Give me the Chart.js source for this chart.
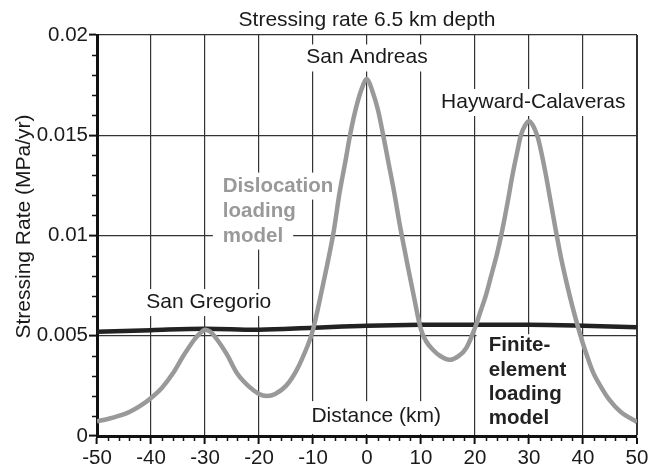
<!DOCTYPE html>
<html>
<head>
<meta charset="utf-8">
<script src="https://cdn.jsdelivr.net/npm/chart.js@4.4.1/dist/chart.umd.min.js"></script>
<style>
  html, body { margin: 0; padding: 0; background: #fff; }
  canvas { display: block; }
</style>
</head>
<body>
<canvas id="stressChart" width="661" height="468"></canvas>
<script>
// Dislocation loading model (gray curve): distance (km) / stressing rate (MPa/yr)
const dislocationX = [-50, -48, -46, -44, -42, -40, -38, -36, -34, -32, -31, -30, -29, -28, -26, -24, -22, -20, -18.5, -17, -15, -13, -11, -10, -8.5, -6.3, -5.1, -4, -3, -2, -1, 0, 1, 2, 3, 4, 5, 6.3, 8.8, 10, 11, 12.2, 13.5, 15.3, 17, 18.4, 20, 21, 22, 23, 24, 25, 26, 27, 28, 28.5, 29.3, 30, 30.7, 31.5, 32, 33, 34, 35, 36, 37, 38, 39, 40, 41, 42, 43, 44.9, 47, 50];
const dislocationY = [0.00073, 0.00085, 0.0010, 0.0012, 0.0015, 0.0019, 0.0024, 0.0031, 0.0040, 0.0048, 0.0051, 0.0053, 0.0052, 0.0049, 0.0041, 0.0031, 0.0025, 0.0021, 0.0020, 0.0021, 0.0025, 0.0033, 0.0045, 0.0053, 0.0071, 0.0100, 0.0121, 0.0137, 0.0152, 0.0164, 0.0173, 0.0178, 0.0172, 0.0163, 0.0150, 0.0136, 0.0122, 0.0102, 0.0068, 0.0053, 0.0047, 0.0043, 0.0040, 0.0038, 0.0040, 0.0044, 0.0054, 0.0062, 0.0070, 0.0080, 0.0090, 0.0102, 0.0116, 0.0131, 0.0144, 0.0150, 0.0155, 0.0157, 0.0155, 0.0150, 0.0145, 0.0132, 0.0117, 0.0102, 0.0088, 0.0076, 0.0065, 0.0055, 0.0046, 0.0038, 0.0031, 0.0026, 0.0018, 0.0012, 0.0007];

// Finite-element loading model (black curve)
const finiteX = [-50, -40, -30, -20, -10, 0, 10, 20, 30, 40, 50];
const finiteY = [0.0052, 0.00528, 0.00535, 0.0053, 0.0054, 0.0055, 0.00555, 0.00555, 0.00555, 0.0055, 0.00543];

// Axis ticks
const xTickValues = [-50, -40, -30, -20, -10, 0, 10, 20, 30, 40, 50];
const xTickLabels = ['-50', '-40', '-30', '-20', '-10', '0', '10', '20', '30', '40', '50'];
const yTickValues = [0, 0.005, 0.01, 0.015, 0.02];
const yTickLabels = ['0', '0.005', '0.01', '0.015', '0.02'];

const faultNames = ['San Gregorio', 'San Andreas', 'Hayward-Calaveras'];
const chartTitle = 'Stressing rate 6.5 km depth';
const xTitle = 'Distance (km)';
const yTitle = 'Stressing Rate (MPa/yr)';
const dislocationLabel = ['Dislocation', 'loading', 'model'];
const finiteLabel = ['Finite-', 'element', 'loading', 'model'];

const FONT = "'Liberation Sans', Arial, Helvetica, sans-serif";
const TEXT_COLOR = '#1a1a1a';
const GRAY = '#999999';

Chart.defaults.font.family = FONT;
Chart.defaults.color = TEXT_COLOR;

function toPoints(xs, ys) {
    return xs.map((x, i) => ({ x: x, y: ys[i] }));
}

// Text labels on white boxes, drawn after the grid and before the curves
const labelsPlugin = {
    id: 'labelsPlugin',
    beforeDatasetsDraw(chart) {
        const { ctx, chartArea, scales: { x, y } } = chart;
        ctx.save();

        function boxedText(text, cx, baseline, align, font, color, padX) {
            ctx.font = font;
            const w = ctx.measureText(text).width;
            const left = align === 'center' ? cx - w / 2 : cx;
            ctx.fillStyle = '#fff';
            ctx.fillRect(left - padX, baseline - 19, w + padX * 2, 27);
            ctx.fillStyle = color;
            ctx.textAlign = 'left';
            ctx.textBaseline = 'alphabetic';
            ctx.fillText(text, left, baseline);
        }

        const plainFont = '21px ' + FONT;
        const boldFont = 'bold 20.5px ' + FONT;

        // fault names
        boxedText(faultNames[0], x.getPixelForValue(-29.3), y.getPixelForValue(0.00638), 'center', plainFont, TEXT_COLOR, 3);
        boxedText(faultNames[1], x.getPixelForValue(0), y.getPixelForValue(0.01858), 'center', plainFont, TEXT_COLOR, 3);
        boxedText(faultNames[2], x.getPixelForValue(30.8), y.getPixelForValue(0.01636), 'center', plainFont, TEXT_COLOR, 3);

        // x-axis title sits inside the plot
        ctx.font = plainFont;
        const xtW = ctx.measureText(xTitle).width;
        const xtCx = x.getPixelForValue(1.7);
        const xtBase = y.getPixelForValue(0.00069);
        ctx.fillStyle = '#fff';
        ctx.fillRect(xtCx - xtW / 2 - 5, xtBase - 21, xtW + 10, chartArea.bottom - 2 - (xtBase - 21));
        ctx.fillStyle = TEXT_COLOR;
        ctx.textAlign = 'center';
        ctx.fillText(xTitle, xtCx, xtBase);

        // dislocation model label (gray, bold)
        const dLeft = x.getPixelForValue(-26.7);
        const dBase = y.getPixelForValue(0.01219);
        dislocationLabel.forEach((line, i) => {
            boxedText(line, dLeft, dBase + i * 25, 'left', boldFont, GRAY, 10);
        });

        // finite-element model label (black, bold) in one box between x=20 and x=40
        const fx0 = x.getPixelForValue(20) + 1.5;
        const fx1 = x.getPixelForValue(40) - 1.5;
        const fy0 = y.getPixelForValue(0.005) - 1.5;
        ctx.fillStyle = '#fff';
        ctx.fillRect(fx0, fy0, fx1 - fx0, chartArea.bottom - 2 - fy0);
        ctx.font = boldFont;
        ctx.fillStyle = '#222';
        ctx.textAlign = 'left';
        const fLeft = x.getPixelForValue(22.55);
        const fBase = y.getPixelForValue(0.004225);
        finiteLabel.forEach((line, i) => {
            ctx.fillText(line, fLeft, fBase + i * 24.4);
        });

        ctx.restore();
    },
    afterDraw(chart) {
        const { ctx, chartArea, scales: { x, y } } = chart;
        ctx.save();

        // minor ticks
        ctx.strokeStyle = '#111';
        ctx.lineWidth = 1.5;
        ctx.beginPath();
        for (let i = 1; i < 20; i++) {
            if (i % 5 === 0) continue;
            const py = Math.round(y.getPixelForValue(i * 0.001)) + 0.5;
            ctx.moveTo(chartArea.left - 5, py);
            ctx.lineTo(chartArea.left, py);
        }
        for (let v = -48; v < 50; v += 2) {
            if (v % 10 === 0) continue;
            const px = Math.round(x.getPixelForValue(v)) + 0.5;
            ctx.moveTo(px, chartArea.bottom);
            ctx.lineTo(px, chartArea.bottom + 5);
        }
        ctx.stroke();

        // chart title
        ctx.fillStyle = TEXT_COLOR;
        ctx.font = '21px ' + FONT;
        ctx.textAlign = 'center';
        ctx.textBaseline = 'alphabetic';
        ctx.fillText(chartTitle, (chartArea.left + chartArea.right) / 2, 26);

        // y-axis title
        ctx.translate(30, (chartArea.top + chartArea.bottom) / 2 - 9);
        ctx.rotate(-Math.PI / 2);
        ctx.fillText(yTitle, 0, 0);

        ctx.restore();
    }
};

const ctx = document.getElementById('stressChart').getContext('2d');
new Chart(ctx, {
    type: 'line',
    data: {
        datasets: [
            {
                label: 'Dislocation loading model',
                data: toPoints(dislocationX, dislocationY),
                borderColor: GRAY,
                borderWidth: 4.5,
                pointRadius: 0,
                tension: 0.35,
                order: 0
            },
            {
                label: 'Finite-element loading model',
                data: toPoints(finiteX, finiteY),
                borderColor: '#222',
                borderWidth: 4.5,
                pointRadius: 0,
                tension: 0.35,
                order: 1
            }
        ]
    },
    options: {
        responsive: false,
        animation: false,
        layout: { padding: { left: 0, top: 35, right: 24, bottom: 0 } },
        plugins: {
            legend: { display: false },
            tooltip: { enabled: false }
        },
        scales: {
            x: {
                type: 'linear',
                min: -50,
                max: 50,
                afterBuildTicks: scale => { scale.ticks = xTickValues.map(v => ({ value: v })); },
                afterFit: scale => { scale.height = 32; },
                ticks: {
                    callback: (value, index) => xTickLabels[index],
                    font: { size: 20.5 },
                    color: TEXT_COLOR,
                    padding: 2,
                    maxRotation: 0
                },
                grid: {
                    color: '#333',
                    lineWidth: c => (c.tick && c.tick.value === 50 ? 2 : 1.2),
                    tickLength: 8,
                    tickColor: '#111',
                    tickWidth: 2
                },
                border: { display: true, color: '#111', width: 3 }
            },
            y: {
                type: 'linear',
                min: 0,
                max: 0.02,
                afterBuildTicks: scale => { scale.ticks = yTickValues.map(v => ({ value: v })); },
                afterFit: scale => { scale.width = 97; },
                ticks: {
                    callback: (value, index) => yTickLabels[index],
                    font: { size: 20.5 },
                    color: TEXT_COLOR,
                    padding: 1
                },
                grid: {
                    color: '#333',
                    lineWidth: 1.2,
                    tickLength: 8,
                    tickColor: '#111',
                    tickWidth: 2
                },
                border: { display: true, color: '#111', width: 3 }
            }
        }
    },
    plugins: [labelsPlugin]
});
</script>
</body>
</html>
